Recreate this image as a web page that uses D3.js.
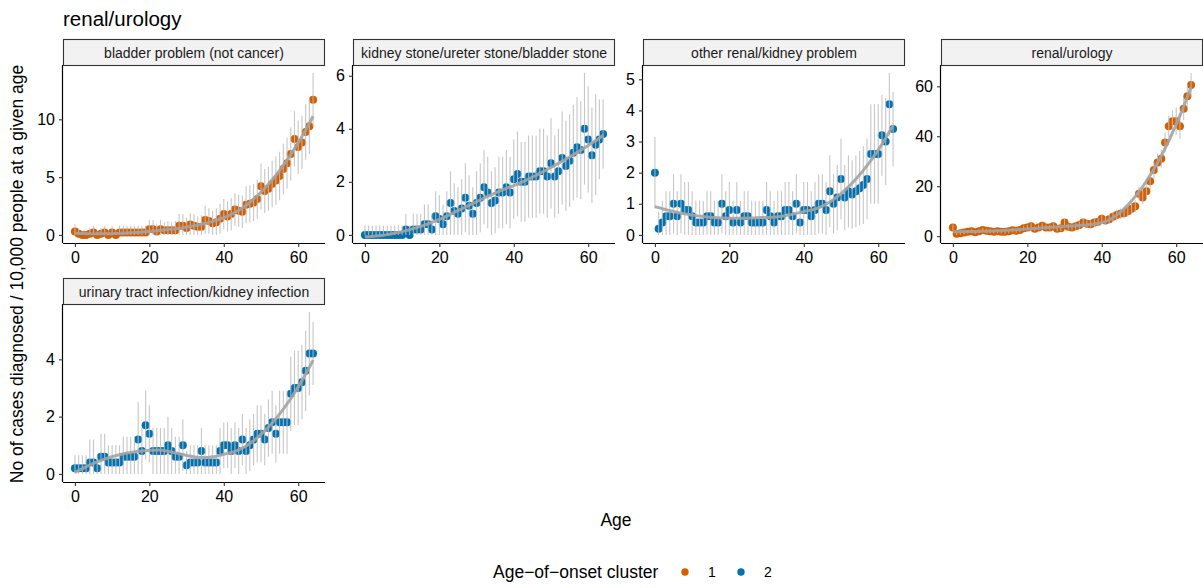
<!DOCTYPE html>
<html>
<head>
<meta charset="utf-8">
<script src="https://cdn.jsdelivr.net/npm/d3@7"></script>
<style>
  body { margin: 0; background: #fff; }
  svg { display: block; font-family: "Liberation Sans", Arial, Helvetica, sans-serif; }
</style>
</head>
<body>
<svg id="chart"></svg>
<script>
// rates per 10,000 people at each age, with half-width of the interval
const ages = d3.range(0, 65);

const panelNames = [
  'bladder problem (not cancer)',
  'kidney stone/ureter stone/bladder stone',
  'other renal/kidney problem',
  'renal/urology',
  'urinary tract infection/kidney infection'
];
const panelCluster = [1, 2, 2, 1, 2];

const bladderRate = [0.3,0.1,0.0,0.0,0.1,0.2,0.0,0.1,0.2,0.0, 0.2,0.0,0.2,0.2,0.2,0.2,0.2,0.2,0.2,0.2,
  0.5,0.5,0.3,0.5,0.4,0.4,0.4,0.4,0.8,0.8, 0.6,0.9,0.8,0.7,0.7,1.3,1.2,1.0,1.1,1.4,
  1.8,1.6,1.8,2.2,2.1,2.0,2.6,2.7,2.8,3.1, 4.2,3.8,4.0,4.4,4.7,5.1,5.7,6.2,7.0,8.3,
  7.6,8.0,8.9,9.4,11.7];
const bladderCI = [0.6,0.5,0.3,0.3,0.5,0.6,0.3,0.5,0.6,0.3, 0.6,0.3,0.6,0.6,0.6,0.6,0.6,0.6,0.6,0.6,
  0.8,0.8,0.6,0.8,0.7,0.8,0.7,0.8,1.0,1.0, 0.9,1.0,1.0,0.9,1.0,1.2,1.1,1.1,1.2,1.3,
  1.3,1.3,1.4,1.4,1.4,1.4,1.6,1.6,1.6,1.7, 2.0,1.9,1.9,2.0,2.1,2.1,2.2,2.2,2.3,2.4,
  2.3,2.3,2.4,2.4,2.3];

const stoneRate = [0,0,0,0,0,0,0,0,0,0, 0.0,0.2,0.0,0.2,0.2,0.2,0.4,0.4,0.2,0.7,
  0.6,0.4,0.7,1.2,0.9,0.8,1.0,1.4,1.1,0.8, 1.2,1.4,1.8,1.6,1.2,1.3,1.6,1.6,1.8,1.6,
  2.1,2.3,2.0,2.0,2.2,2.2,2.2,2.4,2.4,2.2, 2.7,2.2,2.4,2.9,2.6,2.8,3.1,3.3,3.2,4.0,
  3.6,3.0,3.4,3.6,3.8];
const stoneCI = [0.35,0.35,0.35,0.35,0.35,0.35,0.35,0.35,0.35,0.35, 0.35,0.6,0.35,0.6,0.6,0.6,0.75,0.75,0.6,0.95,
  0.9,0.75,0.95,1.2,1.05,1.0,1.1,1.3,1.15,1.0, 1.2,1.3,1.4,1.35,1.2,1.25,1.35,1.35,1.4,1.35,
  1.5,1.6,1.5,1.5,1.55,1.55,1.55,1.6,1.6,1.55, 1.7,1.55,1.6,1.75,1.7,1.75,1.8,1.9,1.85,2.1,
  2.0,1.8,1.9,1.5,1.3];

const otherRate = [2.0,0.2,0.4,0.6,0.6,1.0,0.6,1.0,0.8,0.8, 0.6,0.4,0.4,0.4,0.6,0.6,0.4,0.4,1.0,0.6,
  0.8,0.4,0.8,0.4,0.6,0.6,0.4,0.4,0.4,0.4, 0.8,0.6,0.4,0.6,0.6,0.8,0.8,0.6,1.0,0.4,
  0.8,0.8,0.6,0.8,1.0,1.0,0.8,1.4,1.0,1.2, 1.8,1.2,1.4,1.3,1.4,1.5,1.6,1.8,2.6,2.6,
  2.6,3.2,3.0,4.2,3.4];
const otherCI = [1.15,0.55,0.7,0.8,0.8,0.95,0.8,0.95,0.9,0.9, 0.8,0.7,0.7,0.7,0.8,0.8,0.7,0.7,0.95,0.8,
  0.9,0.7,0.9,0.7,0.8,0.8,0.7,0.7,0.7,0.7, 0.9,0.8,0.7,0.8,0.8,0.9,0.9,0.8,0.95,0.7,
  0.9,0.9,0.8,0.9,0.95,0.95,0.9,1.15,0.95,1.05, 1.3,1.05,1.15,1.1,1.15,1.2,1.25,1.3,1.6,1.6,
  1.6,1.3,1.4,1.0,1.2];

const renalRate = [3.5,1.0,1.2,1.5,1.8,2.0,1.6,2.0,2.5,2.2, 2.0,1.8,2.0,1.8,1.8,2.0,2.4,2.2,2.5,3.2,
  3.5,4.0,3.0,3.5,4.2,3.5,3.5,4.0,3.0,3.2, 5.5,3.8,3.5,4.0,4.5,5.5,5.0,4.8,5.5,5.8,
  7.0,6.3,6.8,7.8,8.5,9.0,9.2,10.0,11.0,12.0, 17.0,15.5,18.0,22.0,26.5,29.5,31.0,37.5,44.0,46.0,
  46.0,44.0,51.0,56.0,60.5];
const renalCI = [1.2,0.5,0.6,0.7,0.7,0.8,0.7,0.8,0.9,0.8, 0.8,0.7,0.8,0.7,0.7,0.8,0.9,0.8,0.9,1.0,
  1.1,1.2,1.0,1.1,1.2,1.1,1.1,1.2,1.0,1.1, 1.4,1.2,1.1,1.2,1.3,1.4,1.3,1.3,1.4,1.4,
  1.9,1.8,1.9,2.0,2.1,2.1,2.1,2.2,2.3,2.4, 2.8,2.7,2.8,3.1,3.4,3.6,3.6,4.0,4.3,4.4,
  5.5,5.0,4.6,4.8,4.8];

const utiRate = [0.2,0.2,0.2,0.2,0.4,0.4,0.2,0.6,0.6,0.4, 0.4,0.4,0.4,0.6,0.6,0.6,0.6,1.2,0.8,1.7,
  1.4,0.8,0.8,0.8,0.8,1.0,0.8,0.6,0.6,1.0, 0.3,0.4,0.4,0.4,0.8,0.4,0.4,0.4,0.4,0.8,
  1.0,1.0,0.8,1.0,0.8,1.2,0.8,1.0,1.2,1.4, 1.4,1.2,1.6,1.8,1.4,1.8,1.8,1.8,2.8,3.0,
  3.0,3.2,3.6,4.2,4.2];
const utiCI = [0.45,0.45,0.45,0.45,0.8,0.8,0.45,0.8,0.8,0.6, 0.6,0.6,0.6,0.7,0.7,0.7,0.7,1.3,0.8,1.2,
  1.0,0.8,0.8,0.8,0.8,1.0,0.8,0.7,0.7,0.9, 0.5,0.6,0.6,0.6,0.8,0.6,0.6,0.6,0.6,0.8,
  0.8,0.8,0.8,0.8,0.8,0.9,0.8,0.9,0.9,1.0, 1.0,0.9,1.0,1.1,1.0,1.1,1.1,1.1,1.3,1.3,
  1.3,1.3,1.4,1.45,1.1];

const panelRates = [bladderRate, stoneRate, otherRate, renalRate, utiRate];
const panelCIs = [bladderCI, stoneCI, otherCI, renalCI, utiCI];
const yTickValues = [[0, 5, 10], [0, 2, 4, 6], [0, 1, 2, 3, 4, 5], [0, 20, 40, 60], [0, 2, 4]];
const xTickValues = [0, 20, 40, 60];

const clusterColors = { 1: '#D55E00', 2: '#0072B2' };

const width = 1203;
const height = 588;

const svg = d3.select('#chart')
  .attr('width', width)
  .attr('height', height);

svg.append('rect').attr('width', width).attr('height', height).attr('fill', '#fff');

// facet grid geometry
const colLeft = [63, 353, 643, 941];
const rowTop = [39, 278];
const panelW = 262;
const stripH = 26;
const panelH = 178;

// loess (span 0.75, degree 2), like geom_smooth's default
function loess(xs, ys, span, evalXs) {
  const n = xs.length;
  const q = Math.floor(n * span);
  return evalXs.map(x0 => {
    const dist = xs.map(x => Math.abs(x - x0));
    const h = dist.slice().sort((a, b) => a - b)[q - 1];
    const w = dist.map(d => {
      const u = d / h;
      return u < 1 ? Math.pow(1 - u * u * u, 3) : 0;
    });
    // weighted normal equations for y = b0 + b1 t + b2 t^2 with t = x - x0
    const S = [0, 0, 0, 0, 0];
    const T = [0, 0, 0];
    for (let i = 0; i < n; i++) {
      const t = xs[i] - x0;
      let p = w[i];
      for (let k = 0; k < 5; k++) {
        S[k] += p;
        if (k < 3) T[k] += p * ys[i];
        p *= t;
      }
    }
    const A = [[S[0], S[1], S[2]], [S[1], S[2], S[3]], [S[2], S[3], S[4]]];
    const det = m => m[0][0] * (m[1][1] * m[2][2] - m[1][2] * m[2][1])
      - m[0][1] * (m[1][0] * m[2][2] - m[1][2] * m[2][0])
      + m[0][2] * (m[1][0] * m[2][1] - m[1][1] * m[2][0]);
    const A0 = A.map((row, r) => [T[r], row[1], row[2]]);
    return [x0, det(A0) / det(A)];
  });
}

const x = d3.scaleLinear().domain([-3.2, 67.2]).range([0, panelW]);

panelNames.forEach((name, i) => {
  const col = i % 4;
  const row = Math.floor(i / 4);
  const left = colLeft[col];
  const top = rowTop[row] + stripH;
  const rates = panelRates[i];
  const cis = panelCIs[i];
  const color = clusterColors[panelCluster[i]];

  const pts = ages.map((a, j) => ({
    age: a,
    rate: rates[j],
    lo: Math.max(0, rates[j] - cis[j]),
    hi: rates[j] + cis[j]
  }));

  const yMin = d3.min(pts, d => d.lo);
  const yMax = d3.max(pts, d => d.hi);
  const pad = (yMax - yMin) * 0.05;
  const y = d3.scaleLinear().domain([yMin - pad, yMax + pad]).range([panelH, 0]);

  // strip
  const strip = svg.append('g').attr('transform', `translate(${left},${rowTop[row]})`);
  strip.append('rect')
    .attr('x', 0.5).attr('y', 0.5)
    .attr('width', panelW - 1).attr('height', stripH)
    .attr('fill', '#f2f2f2')
    .attr('stroke', '#333')
    .attr('stroke-width', 1.1);
  strip.append('text')
    .attr('x', panelW / 2)
    .attr('y', stripH / 2 + 1)
    .attr('dy', '0.35em')
    .attr('text-anchor', 'middle')
    .style('font-size', '14px')
    .style('fill', '#1a1a1a')
    .text(name);

  const g = svg.append('g').attr('transform', `translate(${left},${top})`);

  g.selectAll('circle')
    .data(pts)
    .enter()
    .append('circle')
    .attr('cx', d => x(d.age))
    .attr('cy', d => y(d.rate))
    .attr('r', 4)
    .style('fill', color);

  g.selectAll('line.err')
    .data(pts)
    .enter()
    .append('line')
    .attr('class', 'err')
    .attr('x1', d => x(d.age))
    .attr('x2', d => x(d.age))
    .attr('y1', d => y(d.lo))
    .attr('y2', d => y(d.hi))
    .style('stroke', '#bebebe')
    .style('stroke-width', 1.1)
    .style('opacity', 0.85);

  const smooth = loess(ages, rates, 0.75, d3.range(0, 64.01, 0.5));
  g.append('path')
    .attr('d', d3.line().x(d => x(d[0])).y(d => y(d[1]))(smooth))
    .style('fill', 'none')
    .style('stroke', '#a3a3a3')
    .style('stroke-width', 3)
    .style('opacity', 0.9);

  // axes
  const xAxis = g.append('g')
    .attr('transform', `translate(0,${panelH})`)
    .call(d3.axisBottom(x).tickValues(xTickValues).tickFormat(d3.format('d'))
      .tickSize(4).tickPadding(5).tickSizeOuter(0));
  const yAxis = g.append('g')
    .call(d3.axisLeft(y).tickValues(yTickValues[i]).tickFormat(d3.format('d'))
      .tickSize(4).tickPadding(4).tickSizeOuter(0));

  [xAxis, yAxis].forEach(ax => {
    ax.select('.domain').attr('stroke', '#000').attr('stroke-width', 1.2);
    ax.selectAll('.tick line').attr('stroke', '#333').attr('stroke-width', 1.1);
    ax.selectAll('.tick text')
      .style('font-size', '16px')
      .style('fill', '#000')
      .style('font-family', '"Liberation Sans", Arial, Helvetica, sans-serif');
  });
  // axis lines span the whole panel edge
  xAxis.select('.domain').attr('d', `M0,0.5H${panelW}`);
  yAxis.select('.domain').attr('d', `M-0.5,${panelH}V0`);
});

// titles
svg.append('text')
  .attr('x', 63)
  .attr('y', 26)
  .style('font-size', '20.5px')
  .style('fill', '#000')
  .text('renal/urology');

svg.append('text')
  .attr('transform', 'translate(23,274) rotate(-90)')
  .attr('text-anchor', 'middle')
  .style('font-size', '17.5px')
  .style('fill', '#000')
  .text('No of cases diagnosed / 10,000 people at a given age');

svg.append('text')
  .attr('x', 616)
  .attr('y', 526)
  .attr('text-anchor', 'middle')
  .style('font-size', '17.5px')
  .style('fill', '#000')
  .text('Age');

// legend
const legend = svg.append('g');
legend.append('text')
  .attr('x', 493)
  .attr('y', 578)
  .style('font-size', '17.5px')
  .style('fill', '#000')
  .text('Age\u2212of\u2212onset cluster');

const legendItems = [1, 2];
const legendX = [685, 741];
legendItems.forEach((c, k) => {
  legend.append('circle')
    .attr('cx', legendX[k])
    .attr('cy', 572)
    .attr('r', 3.7)
    .style('fill', clusterColors[c]);
  legend.append('text')
    .attr('x', legendX[k] + 23)
    .attr('y', 577)
    .style('font-size', '14px')
    .style('fill', '#000')
    .text(c);
});
</script>
</body>
</html>
